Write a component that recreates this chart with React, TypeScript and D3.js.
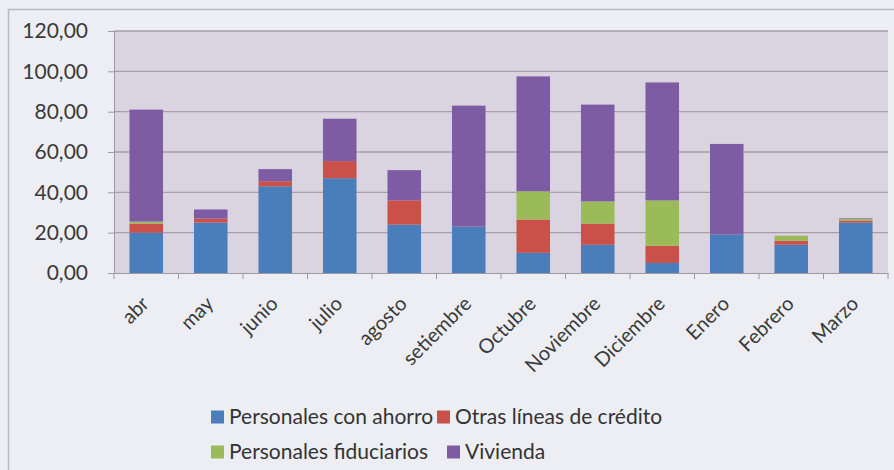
import { useRef, useEffect } from "react";
import { select, scaleBand, scaleLinear, stack, axisLeft, axisBottom } from "d3";

const months = [
  "abr", "may", "junio", "julio", "agosto", "setiembre",
  "Octubre", "Noviembre", "Diciembre", "Enero", "Febrero", "Marzo",
];

const seriesNames = [
  "Personales con ahorro",
  "Otras líneas de crédito",
  "Personales fiduciarios",
  "Vivienda",
];

const personalesAhorro = [20, 25, 43, 47, 24, 23, 10, 14, 5, 19, 14, 25];
const otrasLineas = [4.5, 2, 2.5, 8.5, 12, 0, 16.5, 10.5, 8.5, 0, 2, 1];
const fiduciarios = [1, 0, 0, 0, 0, 0, 14, 11, 22.5, 0, 2.5, 0.8];
const vivienda = [55.5, 4.5, 6, 21, 15, 60, 57, 48, 58.5, 45, 0, 0.3];

const yTicks = [0, 20, 40, 60, 80, 100, 120];

const colors = ["#4a7ebb", "#c9514a", "#9bbb59", "#7d5ca4"];

type Row = { month: string; [k: string]: number | string };

function Chart() {
  const svgRef = useRef<SVGSVGElement | null>(null);
  const width = 894;
  const height = 470;

  useEffect(() => {
    if (!svgRef.current) return;
    const svg = select(svgRef.current);
    svg.selectAll("*").remove();

    const margin = { left: 114, right: 6, top: 31, bottom: 197 };
    const font = "Lato, 'Open Sans', sans-serif";

    const rows: Row[] = months.map((m, i) => ({
      month: m,
      [seriesNames[0]]: personalesAhorro[i],
      [seriesNames[1]]: otrasLineas[i],
      [seriesNames[2]]: fiduciarios[i],
      [seriesNames[3]]: vivienda[i],
    }));

    const x = scaleBand<string>()
      .domain(months)
      .range([margin.left, width - margin.right])
      .paddingInner(0.48)
      .paddingOuter(0.24);

    const y = scaleLinear()
      .domain([0, 120])
      .range([height - margin.bottom, margin.top]);

    // outer frame
    svg.append("rect").attr("width", width).attr("height", height).attr("fill", "#eceef3");
    svg
      .append("rect")
      .attr("x", 8.5)
      .attr("y", 9.5)
      .attr("width", width + 20)
      .attr("height", height + 20)
      .attr("fill", "none")
      .attr("stroke", "#b9b8c4")
      .attr("stroke-width", 1.5);

    // plot area
    svg
      .append("rect")
      .attr("x", margin.left)
      .attr("y", margin.top)
      .attr("width", width - margin.left - margin.right)
      .attr("height", height - margin.top - margin.bottom)
      .attr("fill", "#d9d4e0");

    // grid lines
    svg
      .append("g")
      .selectAll("line")
      .data(yTicks.slice(1))
      .join("line")
      .attr("x1", margin.left)
      .attr("x2", width - margin.right)
      .attr("y1", (d) => y(d))
      .attr("y2", (d) => y(d))
      .attr("stroke", "#ab9da9")
      .attr("stroke-width", 1.3);

    // stacked bars
    const series = stack<Row>().keys(seriesNames)(rows);
    svg
      .append("g")
      .selectAll("g")
      .data(series)
      .join("g")
      .attr("fill", (_, i) => colors[i])
      .selectAll("rect")
      .data((d) => d)
      .join("rect")
      .attr("x", (d) => x(d.data.month as string)!)
      .attr("width", x.bandwidth())
      .attr("y", (d) => y(d[1]))
      .attr("height", (d) => y(d[0]) - y(d[1]));

    // y axis
    svg
      .append("g")
      .attr("transform", `translate(${margin.left}, 0)`)
      .call(
        axisLeft(y)
          .tickValues(yTicks)
          .tickSize(6)
          .tickPadding(20)
          .tickFormat((d) => (d as number).toFixed(2).replace(".", ","))
      )
      .call((g) => g.select(".domain").attr("stroke", "#9d98a4"))
      .call((g) => g.selectAll(".tick line").attr("stroke", "#9d98a4"))
      .call((g) =>
        g
          .selectAll(".tick text")
          .attr("fill", "#3a3a3a")
          .attr("font-size", 21)
          .attr("font-family", font)
      );

    // x axis
    const step = x.step();
    svg
      .append("g")
      .attr("transform", `translate(0, ${height - margin.bottom})`)
      .call(axisBottom(x).tickSize(0).tickSizeOuter(0))
      .call((g) => g.select(".domain").attr("stroke", "#9d98a4"))
      .call((g) =>
        g
          .selectAll(".tick")
          .append("line")
          .attr("x1", -step / 2)
          .attr("x2", -step / 2)
          .attr("y2", 6)
          .attr("stroke", "#9d98a4")
      )
      .call((g) =>
        g
          .selectAll(".tick text")
          .attr("fill", "#3a3a3a")
          .attr("font-size", 20)
          .attr("font-family", font)
          .attr("text-anchor", "end")
          .attr("dy", 0)
          .attr("y", 0)
          .attr("transform", "translate(4, 32) rotate(-45)")
      );
    svg
      .append("line")
      .attr("x1", width - margin.right)
      .attr("x2", width - margin.right)
      .attr("y1", height - margin.bottom)
      .attr("y2", height - margin.bottom + 6)
      .attr("stroke", "#9d98a4");

    // legend
    const legendItems = [
      { name: seriesNames[0], color: colors[0], x: 211, y: 417 },
      { name: seriesNames[1], color: colors[1], x: 437, y: 417 },
      { name: seriesNames[2], color: colors[2], x: 211, y: 452 },
      { name: seriesNames[3], color: colors[3], x: 447, y: 452 },
    ];
    const lg = svg
      .append("g")
      .selectAll("g")
      .data(legendItems)
      .join("g")
      .attr("transform", (d) => `translate(${d.x}, ${d.y})`);
    lg.append("rect")
      .attr("x", 0)
      .attr("y", -6.5)
      .attr("width", 13)
      .attr("height", 13)
      .attr("fill", (d) => d.color);
    lg.append("text")
      .attr("x", 18)
      .attr("dy", "0.35em")
      .attr("fill", "#333")
      .attr("font-size", 21)
      .attr("font-family", font)
      .text((d) => d.name);
  }, []);

  return (
    <svg
      ref={svgRef}
      width={width}
      height={height}
      viewBox={`0 0 ${width} ${height}`}
      style={{ display: "block" }}
    ></svg>
  );
}

export default function App() {
  return (
    <div style={{ position: "absolute", left: 0, top: 0 }}>
      <Chart />
    </div>
  );
}
